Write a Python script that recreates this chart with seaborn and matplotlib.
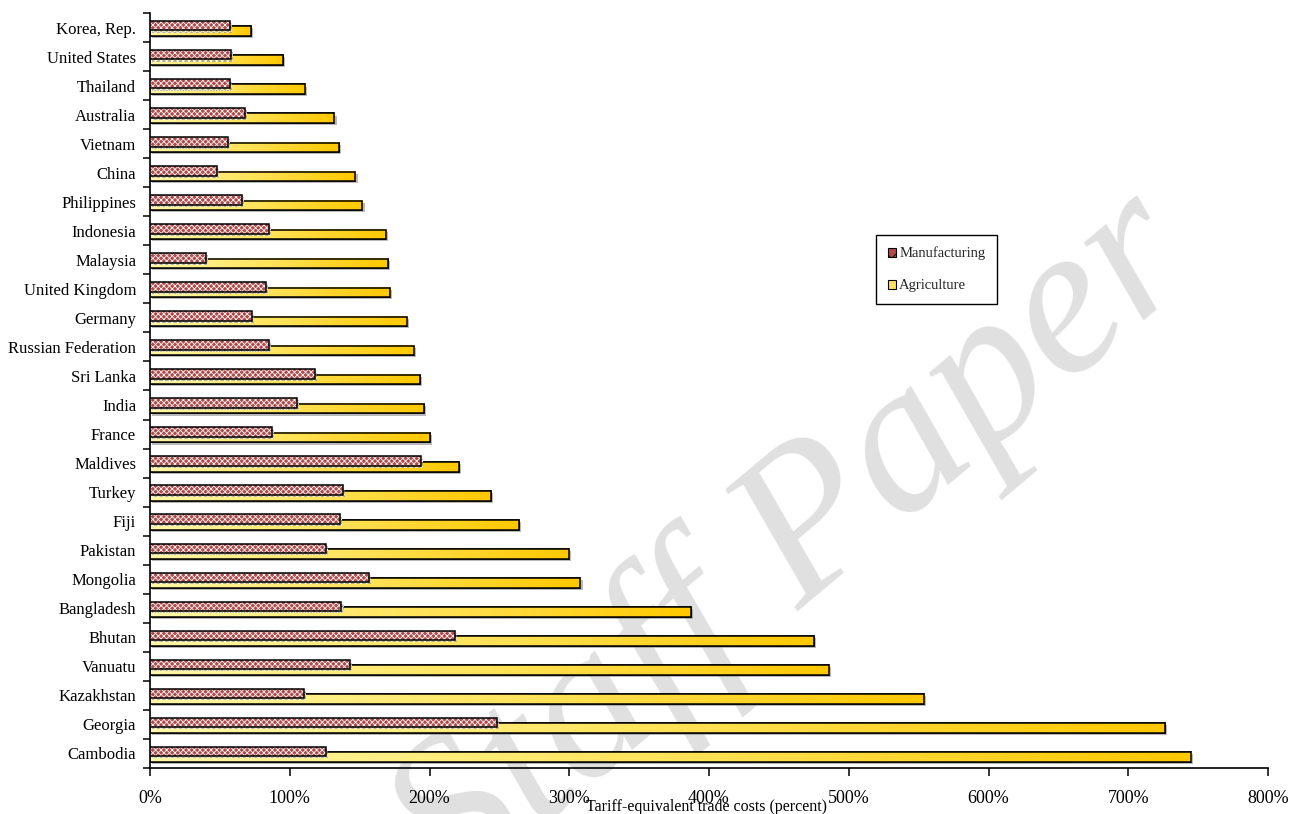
import numpy as np
import pandas as pd
import matplotlib
matplotlib.use("Agg")
import matplotlib.pyplot as plt
import seaborn as sns
from matplotlib import patheffects as pe
from matplotlib.colors import LinearSegmentedColormap
from matplotlib.patches import Patch, Rectangle
from matplotlib.ticker import FixedLocator

# Tariff-equivalent trade costs by country (percent)
countries = ["Korea, Rep.", "United States", "Thailand", "Australia", "Vietnam", "China",
             "Philippines", "Indonesia", "Malaysia", "United Kingdom", "Germany",
             "Russian Federation", "Sri Lanka", "India", "France", "Maldives", "Turkey",
             "Fiji", "Pakistan", "Mongolia", "Bangladesh", "Bhutan", "Vanuatu",
             "Kazakhstan", "Georgia", "Cambodia"]
manufacturing = [57, 58, 57, 68, 56, 48, 66, 85, 40, 83, 73, 85, 118, 105, 87, 194,
                 138, 136, 126, 157, 137, 218, 143, 110, 248, 126]
agriculture = [72, 95, 111, 132, 135, 147, 152, 169, 170, 172, 184, 189, 193, 196, 200,
               221, 244, 264, 300, 308, 387, 475, 486, 554, 726, 745]
x_ticks = [0, 100, 200, 300, 400, 500, 600, 700, 800]
x_tick_labels = [f"{t}%" for t in x_ticks]
x_title = "Tariff-equivalent trade costs (percent)"
series_names = ["Manufacturing", "Agriculture"]

sns.set_theme(style="white")
plt.rcParams["font.family"] = ["Liberation Serif", "DejaVu Serif"]
plt.rcParams["hatch.linewidth"] = 0.55

W, H = 1290, 814
fig = plt.figure(figsize=(W / 100, H / 100), dpi=100)
ax = fig.add_axes([150 / W, (H - 768) / H, (1268 - 150) / W, (768 - 13) / H])
ax.set_facecolor("none")

df = pd.DataFrame({"country": countries,
                   series_names[0]: manufacturing,
                   series_names[1]: agriculture})

MANU_FACE = "#AE4B4B"
AGRI_FACE = "#FFE066"
bar_h = 0.33
agri_shift, manu_shift = 0.125, -0.065
shadow = [pe.SimplePatchShadow(offset=(1.5, -1.5), shadow_rgbFace="#808080", alpha=0.55),
          pe.Normal()]

# Agriculture bars (lower, behind)
n0 = len(ax.patches)
sns.barplot(data=df, x=series_names[1], y="country", orient="h", width=bar_h,
            color=AGRI_FACE, saturation=1, edgecolor="black", linewidth=1.1,
            errorbar=None, ax=ax)
agri_bars = list(ax.patches)[n0:]

# Manufacturing bars (upper, in front)
n1 = len(ax.patches)
sns.barplot(data=df, x=series_names[0], y="country", orient="h", width=bar_h,
            color=MANU_FACE, saturation=1, edgecolor="white", linewidth=0,
            hatch="xxxxxx", errorbar=None, ax=ax)
manu_bars = list(ax.patches)[n1:]

cmap = LinearSegmentedColormap.from_list("agri", ["#FFF8A6", "#FFE35A", "#FFC800"])
grad = np.linspace(0, 1, 256)[None, :]

for p in agri_bars:
    p.set_y(p.get_y() + agri_shift)
    p.set_zorder(2)
    p.set_path_effects(shadow)
    x0, y0, w, h = p.get_x(), p.get_y(), p.get_width(), p.get_height()
    ax.imshow(grad, cmap=cmap, aspect="auto", extent=(x0, x0 + w, y0 + h, y0),
              zorder=2.1, interpolation="bilinear")
    ax.add_patch(Rectangle((x0, y0), w, h, fill=False, edgecolor="black",
                           linewidth=1.1, zorder=2.2))

for p in manu_bars:
    p.set_y(p.get_y() + manu_shift)
    p.set_zorder(3)
    p.set_path_effects(shadow)
    ax.add_patch(Rectangle(p.get_xy(), p.get_width(), p.get_height(), fill=False,
                           edgecolor="black", linewidth=1.1, zorder=3.1))

# Axes, ticks and spines
ax.set_xlim(0, 800)
ax.set_ylim(len(countries) - 0.5, -0.5)
ax.set_xticks(x_ticks)
ax.set_xticklabels(x_tick_labels)
ax.set_yticks(range(len(countries)))
ax.set_yticklabels(countries)
ax.yaxis.set_minor_locator(FixedLocator(np.arange(-0.5, len(countries), 1.0)))
ax.tick_params(axis="y", which="major", left=True, length=0, pad=10,
               labelsize=12, labelcolor="black")
ax.tick_params(axis="y", which="minor", left=True, length=5, width=1.1,
               direction="out", color="black")
ax.tick_params(axis="x", which="major", bottom=True, length=6, width=1.1,
               direction="out", color="black", pad=10, labelsize=13,
               labelcolor="black")
ax.set_xlabel("")
ax.set_ylabel("")
for s in ["top", "right"]:
    ax.spines[s].set_visible(False)
for s in ["left", "bottom"]:
    ax.spines[s].set_color("black")
    ax.spines[s].set_linewidth(1.2)

fig.text(707 / W, 1 - 807 / H, x_title, ha="center", va="center", fontsize=11.5,
         color="black")

# Legend
handles = [Patch(facecolor=MANU_FACE, edgecolor="black", hatch="xx", linewidth=0.8,
                 label=series_names[0]),
           Patch(facecolor=AGRI_FACE, edgecolor="black", linewidth=0.8,
                 label=series_names[1])]
leg = ax.legend(handles=handles, loc="upper left", bbox_to_anchor=(876 / W, 1 - 235 / H),
                bbox_transform=fig.transFigure, frameon=True, fancybox=False,
                edgecolor="black", framealpha=1, fontsize=10.5, handlelength=0.6,
                handleheight=0.6, handletextpad=0.2, labelspacing=1.3,
                borderpad=0.8, borderaxespad=0, shadow=False)
leg.get_frame().set_linewidth(1.0)

# Background stamp
fig.text(829 / W, 1 - 586 / H, "Staff Paper", rotation=40, rotation_mode="anchor",
         ha="center", va="baseline", fontsize=155, style="italic",
         color="#E0E0E0", zorder=-1, family=["Liberation Serif"])

fig.savefig("out.png", dpi=100)
